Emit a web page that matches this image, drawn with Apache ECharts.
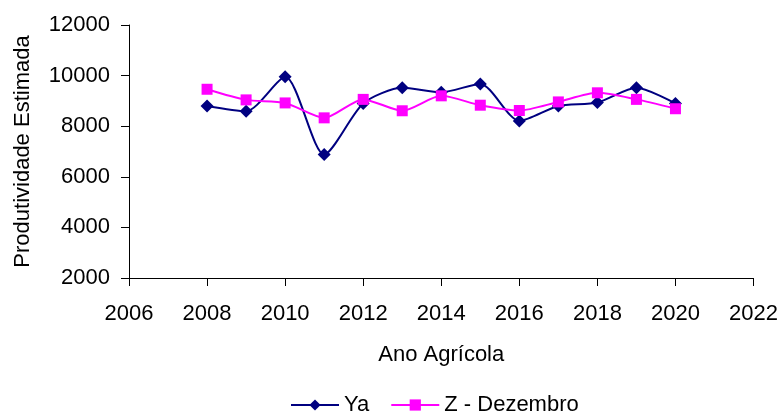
<!DOCTYPE html>
<html>
<head>
<meta charset="utf-8">
<script src="https://cdn.jsdelivr.net/npm/echarts@6/dist/echarts.min.js"></script>
<style>
  html, body { margin: 0; padding: 0; background: #fff; }
  #chart { width: 781px; height: 412px; }
</style>
</head>
<body>
<div id="chart"></div>
<script>
const anos = [2008, 2009, 2010, 2011, 2012, 2013, 2014, 2015, 2016, 2017, 2018, 2019, 2020]
const ya = [8800, 8590, 9950, 6880, 8900, 9520, 9340, 9670, 8210, 8800, 8940, 9520, 8900]
const zDezembro = [9460, 9040, 8920, 8330, 9060, 8610, 9200, 8830, 8620, 8960, 9320, 9060, 8690]

const font = 'Liberation Sans, Arial, sans-serif'
const fs = 22

const pairs = (xs, ys) => xs.map((x, i) => [x, ys[i]])

const option = {
    animation: false,
    backgroundColor: '#fff',
    textStyle: { fontFamily: font, color: '#000' },
    grid: {
        left: 129,
        right: 25,
        top: 25,
        bottom: 134,
    },
    xAxis: {
        type: 'value',
        min: 2006,
        max: 2022,
        interval: 2,
        name: 'Ano Agrícola',
        nameLocation: 'middle',
        nameGap: 66,
        nameTextStyle: { fontSize: fs, color: '#000', fontFamily: font },
        axisLine: { lineStyle: { color: '#000', width: 1 } },
        axisTick: { show: true, length: 8, lineStyle: { color: '#000' } },
        axisLabel: { fontSize: fs, color: '#000', margin: 25, fontFamily: font, formatter: v => String(v) },
        splitLine: { show: false },
    },
    yAxis: {
        type: 'value',
        min: 2000,
        max: 12000,
        interval: 2000,
        name: 'Produtividade Estimada',
        nameLocation: 'middle',
        nameGap: 95,
        nameTextStyle: { fontSize: fs, color: '#000', fontFamily: font },
        axisLine: { show: true, lineStyle: { color: '#000', width: 1 } },
        axisTick: { show: true, length: 8, lineStyle: { color: '#000' } },
        axisLabel: { fontSize: fs, color: '#000', margin: 19, fontFamily: font, formatter: v => String(v) },
        splitLine: { show: false },
    },
    legend: {
        top: 389,
        left: 285,
        itemWidth: 48,
        itemHeight: 14,
        itemGap: 21,
        textStyle: { fontSize: fs, color: '#000', fontFamily: font },
        data: ['Ya', 'Z - Dezembro'],
    },
    series: [
        {
            name: 'Ya',
            type: 'line',
            smooth: 0.25,
            symbol: 'diamond',
            symbolSize: 13,
            data: pairs(anos, ya),
            itemStyle: { color: '#000080' },
            lineStyle: { color: '#000080', width: 2 },
        },
        {
            name: 'Z - Dezembro',
            type: 'line',
            smooth: 0.25,
            symbol: 'rect',
            symbolSize: 11,
            data: pairs(anos, zDezembro),
            itemStyle: { color: '#FF00FF' },
            lineStyle: { color: '#FF00FF', width: 2 },
        },
    ],
}

let chart = echarts.init(document.getElementById('chart'))
chart.setOption(option)
</script>
</body>
</html>
